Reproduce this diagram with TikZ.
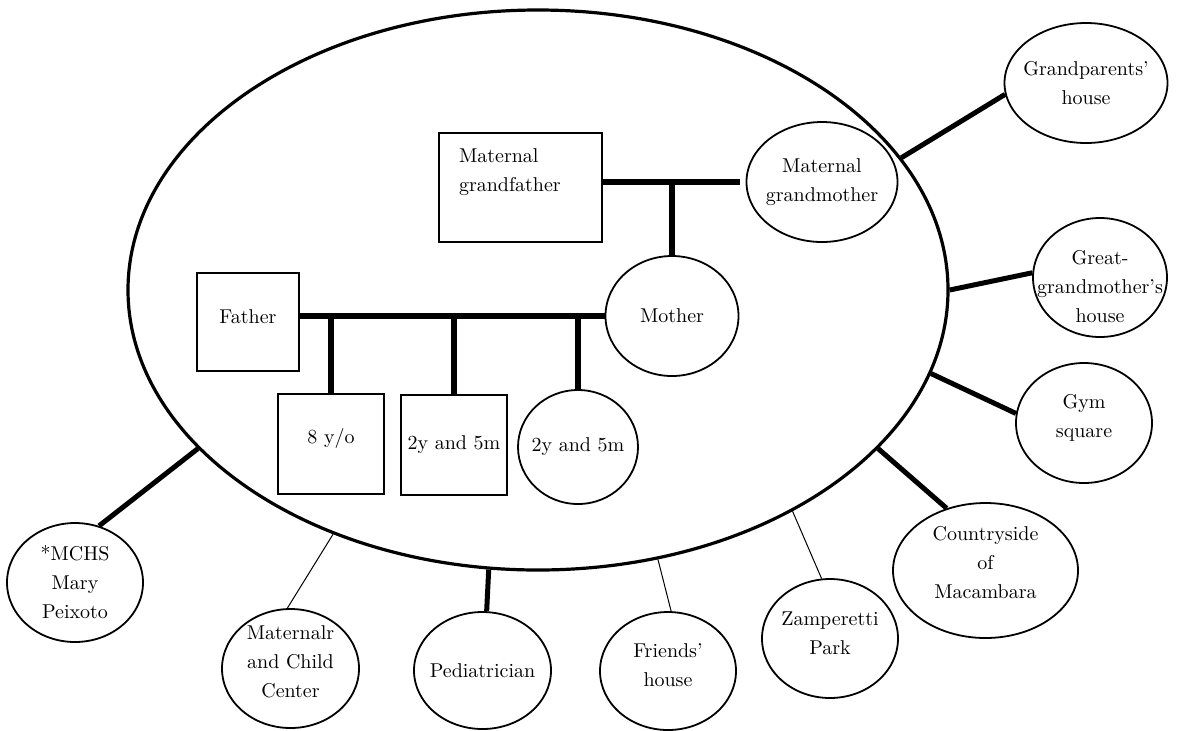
\documentclass[tikz,border=0pt]{standalone}
\usetikzlibrary{shapes}

\begin{document}
\begin{tikzpicture}[x=0.5pt, y=-0.5pt,
        every node/.style={font=\fontsize{10}{14.5}\selectfont, align=center},
        place/.style={draw, ellipse, line width=0.9pt, inner xsep=-12pt, inner ysep=-6pt},
        person/.style={draw, rectangle, line width=0.65pt, inner sep=0pt},
        bond/.style={line width=2.6pt},
        strong/.style={line width=2.5pt},
        weak/.style={line width=0.5pt}]
        \useasboundingbox (0,0) rectangle (1178,730);

        \node[draw, ellipse, line width=1.6pt, minimum width=410pt, minimum height=280pt] (home) at (538,290) {};

        % family inside the home
        \node[person, minimum width=81.5pt, minimum height=54.5pt, text width=61.5pt, align=left, text depth=32pt] (mat_gf) at (520.5,187.5) {Maternal\\grandfather};
        \node[place, minimum width=75.5pt, minimum height=60pt] (mat_gm) at (822,182) {Maternal\\grandmother};
        \node[place, minimum width=66.5pt, minimum height=60pt] (mother) at (672,316) {Mother};
        \node[person, minimum width=51pt, minimum height=49pt, text depth=5pt] (father) at (248,322) {Father};
        \node[person, minimum width=53pt, minimum height=50pt, text depth=8.5pt] (kid_a) at (331,444) {8 y/o};
        \node[person, minimum width=53pt, minimum height=50pt] (kid_b) at (454,445) {2y and 5m};
        \node[place, minimum width=60pt, minimum height=57pt] (kid_c) at (578,447) {2y and 5m};

        \draw[bond, shorten >=3pt] (mat_gf.east |- mat_gm.west) -- (mat_gm.west);
        \draw[bond] (mother.north) -- (mother.north |- mat_gm.west);
        \draw[bond] (father.east |- mother.west) -- (mother.west);
        \foreach \k in {kid_a, kid_b, kid_c}
                \draw[bond] (\k.north) -- (\k.north |- mother.west);

        % places around the home
        \node[place, minimum width=81.5pt, minimum height=60pt] (gp_house) at (1086,83) {Grandparents'\\house};
        \node[place, minimum width=67pt, minimum height=59.5pt, text height=45pt] (ggm_house) at (1100,277.5) {Great-\\grandmother's\\house};
        \node[place, minimum width=68pt, minimum height=60pt, text depth=7pt] (gym) at (1084,423) {Gym\\square};
        \node[place, minimum width=92.5pt, minimum height=67.5pt, text depth=8pt] (country) at (985.5,570.5) {Countryside\\of\\Macambara};
        \node[place, minimum width=68pt, minimum height=59.5pt, text depth=5pt] (park) at (830,638.5) {Zamperetti\\Park};
        \node[place, minimum width=68pt, minimum height=59pt, text depth=6pt] (friends) at (668,671) {Friends'\\house};
        \node[place, minimum width=68.5pt, minimum height=58.5pt] (pediatr) at (482.5,670.5) {Pediatrician};
        \node[place, minimum width=68.5pt, minimum height=59.5pt, text depth=7pt] (mcc) at (290.5,668.5) {Maternalr\\and Child\\Center};
        \node[place, minimum width=68pt, minimum height=59.5pt] (mchs) at (75,582.5) {*MCHS\\Mary\\Peixoto};

        \draw[strong] (home.20) -- (gp_house.188);
        \draw[strong] (home.0) -- (ggm_house.176);
        \draw[strong] (home.-12) -- (gym.172);
        \draw[strong] (home.-25) -- (country.122);
        \draw[weak] (home.-41) -- (park.98);
        \draw[weak] (home.-66) -- (friends.87);
        \draw[strong] (home.-100) -- (pediatr.86);
        \draw[weak] (home.-130) -- (mcc.93);
        \draw[strong] (home.-155) -- (mchs.67);
\end{tikzpicture}
\end{document}
